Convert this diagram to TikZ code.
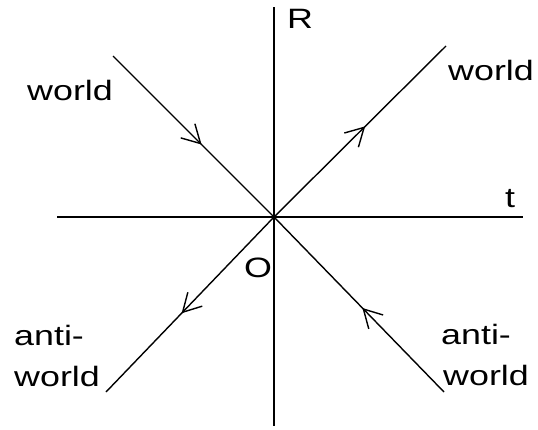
\documentclass[tikz,border=0pt]{standalone}
\usepackage{fontspec}
\usepackage{graphicx}
\setmainfont{Liberation Sans}
\usetikzlibrary{arrows.meta,decorations.markings}
\newcommand\widetext[1]{\scalebox{1.28}[1]{#1}}
\tikzset{
  axis/.style={line width=2.2pt},
  ray/.style={line width=1.4pt},
  midarrow/.style={postaction={decorate},decoration={markings,
     mark=at position #1 with {\arrow{Straight Barb[length=18pt,width=20pt,line width=1.4pt]}}}},
  lbl/.style={anchor=base west,inner sep=0pt,font=\fontsize{28}{34}\selectfont},
}
\begin{document}
\begin{tikzpicture}[x=1pt,y=-1pt]
\useasboundingbox (0,0) rectangle (538,429);
\coordinate (o) at (274,217);
\coordinate (top) at (274,7);
\coordinate (bot) at (274,426);
\coordinate (left) at (57,217);
\coordinate (right) at (523,217);
\coordinate (ul) at (113,56);
\coordinate (ur) at (446,46);
\coordinate (ll) at (106,392);
\coordinate (lr) at (444,392);
\draw[axis] (top) -- (bot);
\draw[axis] (left) -- (right);
\draw[ray,midarrow=0.55] (ul) -- (o);
\draw[ray,midarrow=0.53] (o) -- (ur);
\draw[ray,midarrow=0.55] (o) -- (ll);
\draw[ray,midarrow=0.48] (lr) -- (o);
\node[lbl] (lR) at (287,28) {\widetext{R}};
\node[lbl] (lt) at (505,207) {\widetext{t}};
\node[lbl] (lO) at (244,277) {\widetext{O}};
\node[lbl] (lw1) at (27,100) {\widetext{world}};
\node[lbl] (lw2) at (448,80) {\widetext{world}};
\node[lbl] (la1) at (14,345) {\widetext{anti-}};
\node[lbl] (la1b) at (14,386) {\widetext{world}};
\node[lbl] (la2) at (441,344) {\widetext{anti-}};
\node[lbl] (la2b) at (443,385) {\widetext{world}};
\end{tikzpicture}
\end{document}
